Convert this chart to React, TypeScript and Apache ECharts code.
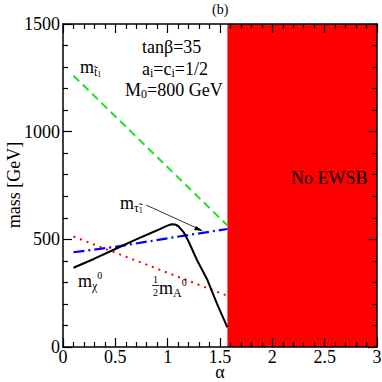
import React, { useEffect, useRef } from "react";
import * as echarts from "echarts";

const stopAlpha = [0.1, 1.57];
const stopMass = [1260, 565];
const stauAlpha = [0.1, 0.5, 1.0, 1.57];
const stauMass = [440, 465, 505, 548];
const halfAAlpha = [0.1, 1.57];
const halfAMass = [513, 238];
const chiAlpha = [0.1, 0.3, 0.5, 0.7, 0.9, 0.97, 1.01, 1.04, 1.07, 1.1, 1.15, 1.2, 1.28, 1.38, 1.47, 1.54, 1.57];
const chiMass = [368, 410, 455, 500, 542, 558, 566, 570, 569, 562, 535, 490, 404, 311, 203, 125, 91];
const noEwsbRange = [1.5708, 3];
const xTicks = [0, 3, 0.5];
const yTicks = [0, 1500, 500];

const pairs = (xs: number[], ys: number[]) => xs.map((x, i) => [x, ys[i]]);

const FONT = "'Liberation Serif', 'DejaVu Serif', 'Times New Roman', serif";

const rich = {
  n: { fontFamily: FONT, fontSize: 18, color: "#000", verticalAlign: "middle" },
  s: { fontFamily: FONT, fontSize: 12, color: "#000", verticalAlign: "bottom" },
  s2: { fontFamily: FONT, fontSize: 8, color: "#000", verticalAlign: "bottom" },
  p: { fontFamily: FONT, fontSize: 10, color: "#000", verticalAlign: "top" },
};

export default function App() {
  const ref = useRef<HTMLDivElement>(null);
  useEffect(() => {
    if (!ref.current) return;
    const chart = echarts.init(ref.current, undefined, { renderer: "svg" });
    const axisCommon = {
      axisLine: { show: true, onZero: false, lineStyle: { color: "#000", width: 1.5 } },
      axisTick: { show: true, inside: true, length: 9, lineStyle: { color: "#000", width: 1.2 } },
      minorTick: { show: true, splitNumber: 5, length: 5, lineStyle: { color: "#000", width: 1.2 } },
      splitLine: { show: false },
      z: 5,
    };
    const t = (text: string, x: number, y: number, size: number, extra: any = {}, elExtra: any = {}) => ({
      type: "text",
      x,
      y,
      z: 100,
      ...elExtra,
      style: { text, fontFamily: FONT, fontSize: size, fill: "#000", verticalAlign: "middle", ...extra },
    });
    const r = (text: string, x: number, y: number, lh = 22) => ({
      type: "text",
      x,
      y,
      z: 100,
      style: { text, rich, lineHeight: lh, fontFamily: FONT, fill: "#000", verticalAlign: "middle" },
    });
    chart.setOption({
      animation: false,
      backgroundColor: "#fff",
      grid: { left: 63, right: 5, top: 24, bottom: 35, outerBoundsMode: "none", containLabel: false },
      xAxis: [
        {
          type: "value",
          min: xTicks[0],
          max: xTicks[1],
          interval: xTicks[2],
          position: "bottom",
          ...axisCommon,
          axisLabel: { color: "#000", fontFamily: FONT, fontSize: 18, lineHeight: 16, margin: 2, formatter: (v: number) => String(v) },
        },
        {
          type: "value",
          min: xTicks[0],
          max: xTicks[1],
          interval: xTicks[2],
          position: "top",
          ...axisCommon,
          axisLabel: { show: false },
        },
      ],
      yAxis: [
        {
          type: "value",
          min: yTicks[0],
          max: yTicks[1],
          interval: yTicks[2],
          position: "left",
          ...axisCommon,
          axisLabel: { color: "#000", fontFamily: FONT, fontSize: 18, margin: 3, formatter: (v: number) => String(v) },
        },
        {
          type: "value",
          min: yTicks[0],
          max: yTicks[1],
          interval: yTicks[2],
          position: "right",
          ...axisCommon,
          axisLabel: { show: false },
        },
      ],
      series: [
        {
          type: "line",
          data: pairs(stopAlpha, stopMass),
          symbol: "none",
          lineStyle: { color: "#22dd22", width: 2, type: [8, 5] },
          markArea: {
            silent: true,
            itemStyle: { color: "#ff0000", opacity: 1 },
            data: [[{ coord: [noEwsbRange[0], yTicks[0]] }, { coord: [noEwsbRange[1], yTicks[1]] }]],
          },
        },
        {
          type: "line",
          data: pairs(stauAlpha, stauMass),
          symbol: "none",
          lineStyle: { color: "#0000ff", width: 2.2, type: [11, 4, 2, 4] },
        },
        {
          type: "line",
          data: pairs(halfAAlpha, halfAMass),
          symbol: "none",
          lineStyle: { color: "#ff0000", width: 2, type: [2, 5] },
        },
        {
          type: "line",
          data: pairs(chiAlpha, chiMass),
          symbol: "none",
          lineStyle: { color: "#000", width: 2 },
        },
      ],
      graphic: [
        t("(b)", 212, 9, 14),
        t("α", 220, 372, 18, { align: "center" }),
        t("mass [GeV]", 14, 185, 18, { align: "center" }, { rotation: Math.PI / 2 }),
        t("tanβ=35", 142, 47, 18),
        r("{n|a}{s|i}{n|=c}{s|i}{n|=1/2}", 142, 69, 19),
        r("{n|M}{s|0}{n|=800 GeV}", 125, 90, 19),
        t("No EWSB", 291, 178, 18),
        r("{n|m}{s|t̃}{s2|1}", 80, 67),
        r("{n|m}{s|τ̃}{s2|1}", 120, 203),
        r("{n|m}{s|χ}{p|0}", 78, 281),
        t("1", 153, 279, 10),
        t("2", 153, 292, 10),
        { type: "line", z: 100, shape: { x1: 152, y1: 285.5, x2: 159, y2: 285.5 }, style: { stroke: "#000", lineWidth: 0.8 } },
        r("{n|m}{s|A}{p|0}", 159, 288),
        {
          type: "line",
          z: 100,
          shape: { x1: 146, y1: 205, x2: 201, y2: 230 },
          style: { stroke: "#000", lineWidth: 0.8 },
        },
        {
          type: "polygon",
          z: 100,
          shape: { points: [[203, 231], [194, 230], [196, 226]] },
          style: { fill: "#000" },
        },
      ],
    });
    return () => chart.dispose();
  }, []);
  return <div ref={ref} style={{ width: 382, height: 382, position: "absolute", left: 0, top: 0 }} />;
}
